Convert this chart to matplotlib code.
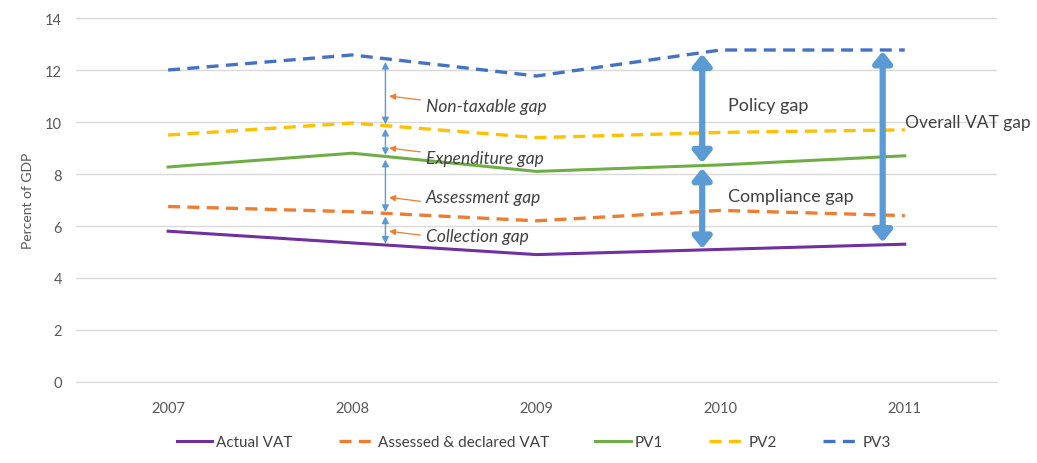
import numpy as np
import matplotlib
matplotlib.use("Agg")
import matplotlib.pyplot as plt

plt.rcParams['font.family'] = ['Lato', 'DejaVu Sans']

years = ['2007', '2008', '2009', '2010', '2011']
actual_vat = [5.8, 5.35, 4.9, 5.1, 5.3]
assessed_vat = [6.75, 6.55, 6.2, 6.6, 6.4]
pv1 = [8.27, 8.8, 8.1, 8.35, 8.7]
pv2 = [9.5, 9.96, 9.4, 9.6, 9.7]
pv3 = [12.0, 12.58, 11.77, 12.77, 12.77]

series_names = ['Actual VAT', 'Assessed & declared VAT', 'PV1', 'PV2', 'PV3']
series_vals = [actual_vat, assessed_vat, pv1, pv2, pv3]
colors = ['#7030A0', '#ED7D31', '#70AD47', '#FFC000', '#4472C4']
dashed = [False, True, False, True, True]

small_gap_labels = ['Non-taxable gap', 'Expenditure gap', 'Assessment gap', 'Collection gap']

fig = plt.figure(figsize=(10.37, 4.64), dpi=100)
ax = fig.add_axes([0.0733, 0.1746, 0.888, 0.7844])

x = np.arange(len(years))
for name, vals, c, d in zip(series_names, series_vals, colors, dashed):
    if d:
        ax.plot(x, vals, color=c, lw=2.4, dashes=(3.6, 2.2), label=name, zorder=3)
    else:
        ax.plot(x, vals, color=c, lw=2.2, label=name, zorder=3)

ax.set_xlim(-0.5, 4.5)
ax.set_ylim(0, 14)
ax.set_yticks(range(0, 15, 2))
ax.set_xticks(x)
ax.set_xticklabels(years)
ax.grid(axis='y', color='#D9D9D9', lw=1)
ax.set_axisbelow(True)
for s in ['top', 'right', 'left']:
    ax.spines[s].set_visible(False)
ax.spines['bottom'].set_color('#D9D9D9')
ax.tick_params(axis='both', length=0, colors='#595959', labelsize=10.5)
ax.tick_params(axis='x', pad=14)
ax.tick_params(axis='y', pad=10)
ax.set_ylabel('Percent of GDP', color='#595959', fontsize=10, labelpad=8)

# thin arrows near 2008
xa = 1.18
ordered = [pv3, pv2, pv1, assessed_vat, actual_vat]
vals_at = [np.interp(xa, x, s) for s in ordered]
for top, bot in zip(vals_at[:-1], vals_at[1:]):
    ax.annotate('', xy=(xa, bot + 0.05), xytext=(xa, top - 0.12),
                arrowprops=dict(arrowstyle='<|-|>', color='#5B9BD5', lw=1.0,
                                mutation_scale=10, shrinkA=0, shrinkB=0), zorder=4)

label_y = [10.6, 8.63, 7.13, 5.6]
arrow_y = [11.0, 9.0, 7.1, 5.8]
for lab, ly, ay in zip(small_gap_labels, label_y, arrow_y):
    ax.annotate('', xy=(xa + 0.02, ay), xytext=(xa + 0.19, ay - 0.15),
                arrowprops=dict(arrowstyle='-|>', color='#ED7D31', lw=0.9,
                                mutation_scale=9, shrinkA=0, shrinkB=0), zorder=4)
    ax.text(xa + 0.22, ly, lab, style='italic', fontsize=12.5, color='#404040',
            va='center', ha='left')

# thick arrows
def thick_arrow(xp, y0, y1):
    ax.annotate('', xy=(xp, y1), xytext=(xp, y0),
                arrowprops=dict(arrowstyle='<|-|>,head_length=0.55,head_width=0.45',
                                facecolor='#5B9BD5', edgecolor='#5B9BD5', lw=4.5,
                                mutation_scale=12, shrinkA=0, shrinkB=0), zorder=5)

xp1 = 2.9
thick_arrow(xp1, np.interp(xp1, x, pv3) - 0.05, np.interp(xp1, x, pv1) + 0.1)
thick_arrow(xp1, np.interp(xp1, x, pv1) - 0.1, np.interp(xp1, x, actual_vat) + 0.05)
xp2 = 3.88
thick_arrow(xp2, np.interp(xp2, x, pv3) - 0.05, np.interp(xp2, x, actual_vat) + 0.1)

ax.text(3.04, 10.65, 'Policy gap', fontsize=13, color='#404040', va='center', ha='left')
ax.text(3.04, 7.15, 'Compliance gap', fontsize=13, color='#404040', va='center', ha='left')
ax.text(4.0, 10.0, 'Overall VAT gap', fontsize=12.5, color='#404040', va='center', ha='left')

leg = fig.legend(loc='lower center', bbox_to_anchor=(0.515, 0.0), ncol=5, frameon=False,
                 fontsize=11, handlelength=2.3, columnspacing=3.0, handletextpad=0.3)
for t in leg.get_texts():
    t.set_color('#404040')

fig.savefig('out.png', dpi=100)
